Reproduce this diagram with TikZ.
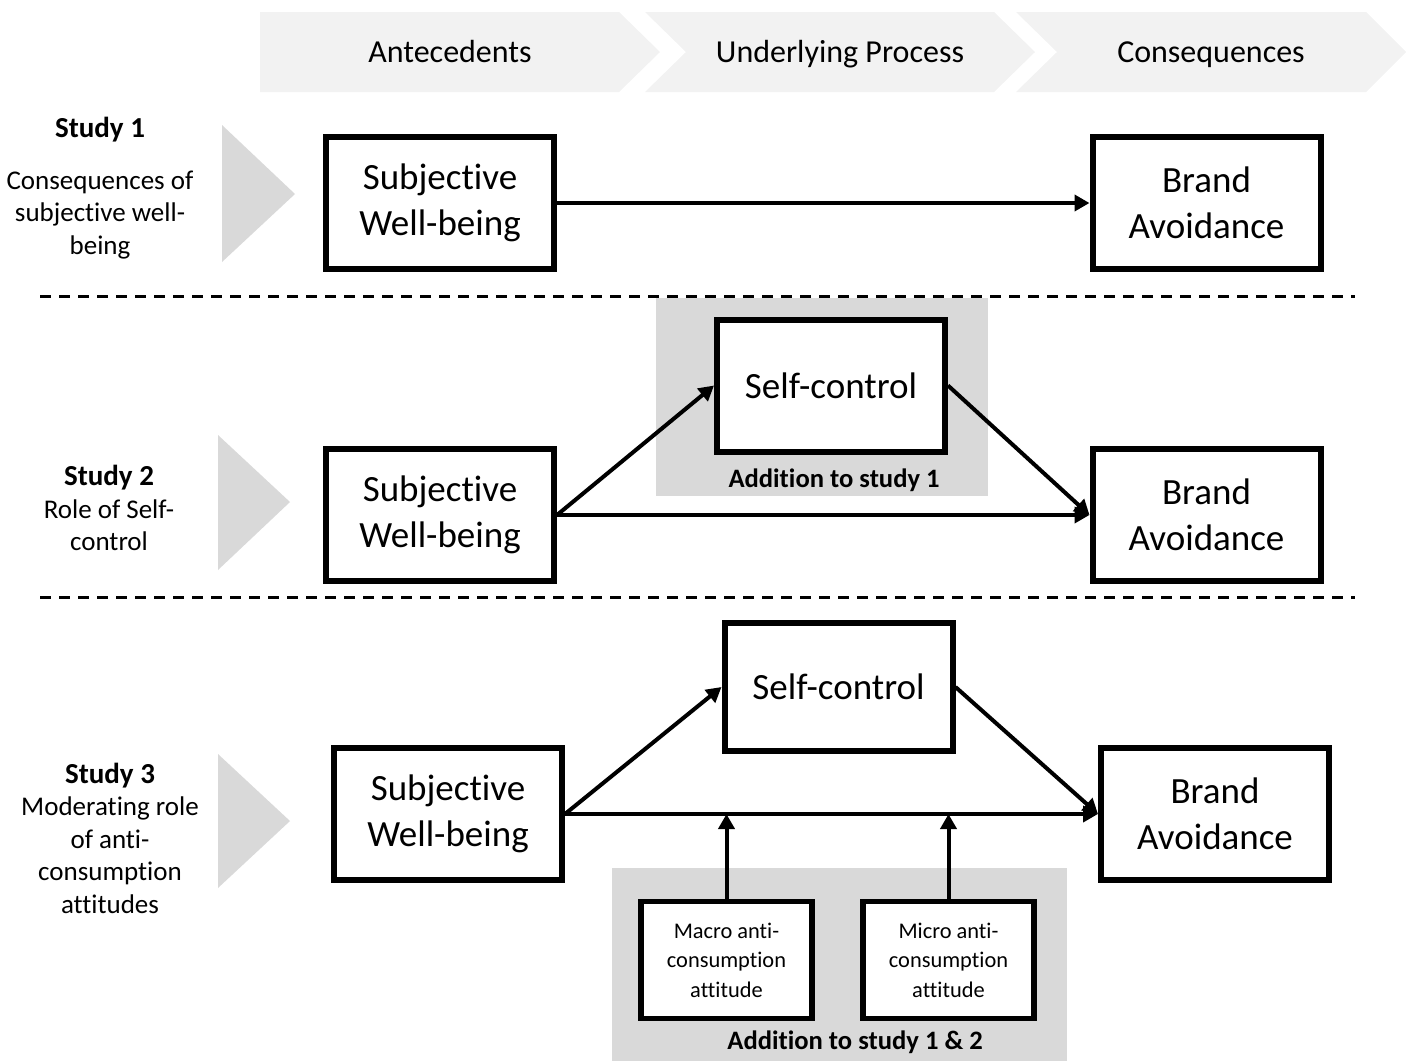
\documentclass[tikz,border=0pt]{standalone}
\usepackage{fontspec}
\setmainfont{Carlito}[Ligatures=NoCommon]
\usepackage{tikz}
\usetikzlibrary{arrows.meta,positioning,calc}
\definecolor{bandgray}{HTML}{F2F2F2}
\definecolor{boxgray}{HTML}{D9D9D9}
\newcommand{\studyhd}[1]{{\fontsize{14.5}{16.25}\selectfont\bfseries #1}}

\begin{document}
\begin{tikzpicture}[x=0.5pt,y=-0.5pt,>={Triangle[length=7.5pt,width=8pt]},
  every node/.style={font=\fontsize{13.5}{16.25}\selectfont},
  varbox/.style={draw,line width=3pt,fill=white,minimum width=114pt,minimum height=66pt,align=center,font=\fontsize{18.5}{23}\selectfont},
  attbox/.style={draw,line width=2.8pt,fill=white,minimum width=85.7pt,minimum height=58.5pt,align=center,inner sep=2pt,font=\fontsize{11.2}{14.75}\selectfont},
  link/.style={->,line width=2pt},
  addlabel/.style={font=\bfseries\fontsize{13.3}{16}\selectfont},
  header/.style={anchor=base,font=\fontsize{16}{19}\selectfont},
  studylbl/.style={align=center}]
  \useasboundingbox (0,0) rectangle (1413,1061);
  % header band
  \fill[bandgray] (260,12) -- (619,12) -- (660,52) -- (619,92) -- (260,92) -- cycle;
  \fill[bandgray] (645,12) -- (994,12) -- (1035,52) -- (994,92) -- (645,92) -- (686,52) -- cycle;
  \fill[bandgray] (1016,12) -- (1366,12) -- (1406,52) -- (1366,92) -- (1016,92) -- (1057,52) -- cycle;
  \node[header] (ante) at (450,62) {Antecedents};
  \node[header] (proc) at (840,62) {Underlying Process};
  \node[header] (cons) at (1211,62) {Consequences};
  % left triangles
  \fill[boxgray] (222,125) -- (295,194) -- (222,262) -- cycle;
  \fill[boxgray] (218,435) -- (290,502) -- (218,570) -- cycle;
  \fill[boxgray] (218,754) -- (290,821) -- (218,888) -- cycle;
  % separators
  \draw[line width=1.5pt,dash pattern=on 5.5pt off 4pt] (40,296) -- (1355,296);
  \draw[line width=1.5pt,dash pattern=on 5.5pt off 4pt] (40,597) -- (1355,597);
  % study 1
  \node (st1) at (100,130) {\studyhd{Study 1}};
  \node[studylbl] (st1txt) at (100,215) {Consequences of\\subjective well-\\being};
  \node[varbox] (swb1) at (440,203) {Subjective\\Well-being};
  \node[varbox] (ba1) at (1206.5,203) {Brand\\Avoidance};
  \draw[link] (swb1) -- (ba1);
  % study 2
  \fill[boxgray] (656,298) rectangle (988,496);
  \node[addlabel] (add2) at (834,480) {Addition to study 1};
  \node[studylbl] (st2) at (109,508) {\studyhd{Study 2}\\Role of Self-\\control};
  \node[varbox] (swb2) at (440,515) {Subjective\\Well-being};
  \node[varbox] (sc2) at (831,385.5) {Self-control};
  \node[varbox] (ba2) at (1206.5,515) {Brand\\Avoidance};
  \draw[link] (swb2.east) -- (sc2.west);
  \draw[link] (sc2.east) -- (ba2.west);
  \draw[link] (swb2.east) -- (ba2.west);
  % study 3
  \fill[boxgray] (612,868) rectangle (1067,1061);
  \node[addlabel] (add3) at (855,1042) {Addition to study 1 \& 2};
  \node[studylbl] (st3) at (110,838) {\studyhd{Study 3}\\Moderating role\\of anti-\\consumption\\attitudes};
  \node[varbox] (swb3) at (448,814) {Subjective\\Well-being};
  \node[varbox,minimum height=64pt] (sc3) at (838.5,687) {Self-control};
  \node[varbox] (ba3) at (1215,814) {Brand\\Avoidance};
  \node[attbox] (macro) at (726.5,960) {Macro anti-\\consumption\\attitude};
  \node[attbox] (micro) at (948.5,960) {Micro anti-\\consumption\\attitude};
  \draw[link] (swb3.east) -- (sc3.west);
  \draw[link] (sc3.east) -- (ba3.west);
  \draw[link] (swb3.east) -- (ba3.west);
  \draw[link] (macro.north) -- (macro.north |- swb3.east);
  \draw[link] (micro.north) -- (micro.north |- swb3.east);
\end{tikzpicture}
\end{document}
